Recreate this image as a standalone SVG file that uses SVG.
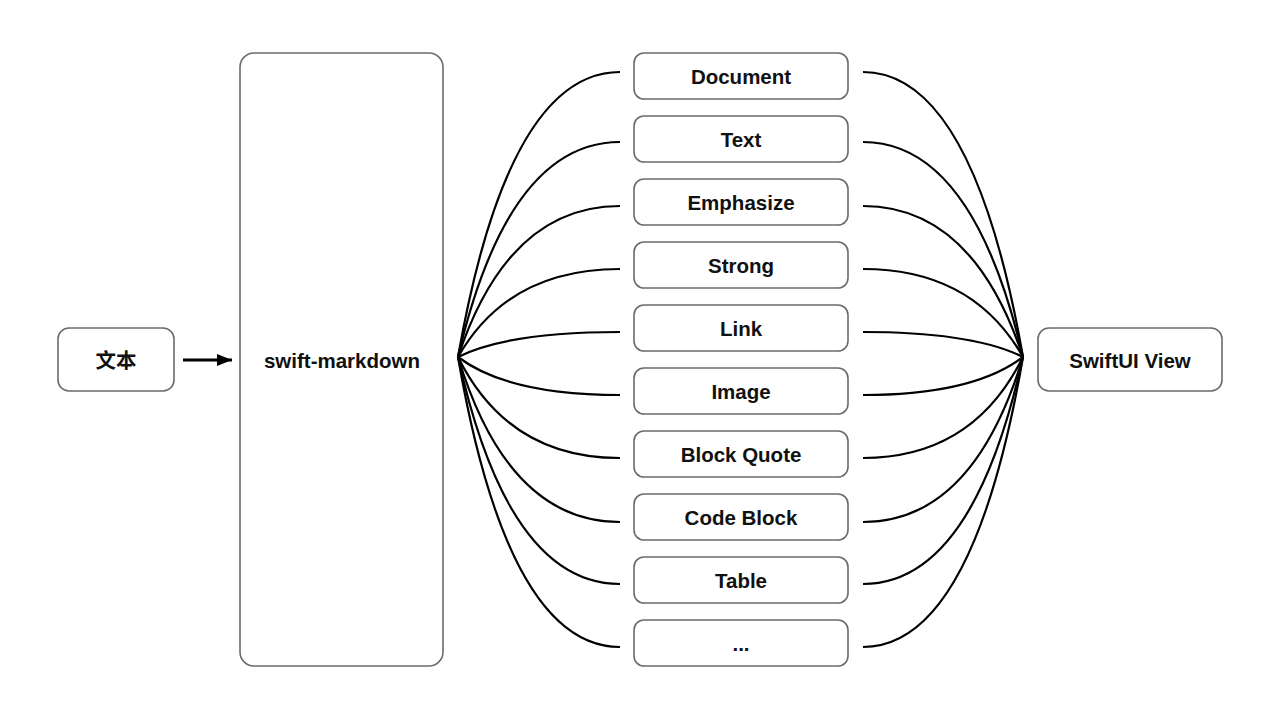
<svg xmlns="http://www.w3.org/2000/svg" width="1280" height="720" viewBox="0 0 1280 720">
<style>
.box{fill:#fff;stroke:#6b6b6b;stroke-width:1.6}
.lbl{font-family:"Liberation Sans","Noto Sans CJK SC",sans-serif;font-weight:bold;font-size:20.5px;fill:#111;text-anchor:middle}
.edge{fill:none;stroke:#000;stroke-width:2.2}
</style>
<defs>
<marker id="arr" markerWidth="16" markerHeight="12" refX="15" refY="6" orient="auto" markerUnits="userSpaceOnUse">
<path d="M0,0 L15,6 L0,12 Z" fill="#000"/>
</marker>
</defs>
<rect width="1280" height="720" fill="#fff"/>
<g id="connectors">
<path d="M183,360 L232,360" fill="none" stroke="#000" stroke-width="2.8" marker-end="url(#arr)"/>
<path class="edge" d="M458,357 Q508,72 620,72"/>
<path class="edge" d="M458,357 Q508,142 620,142"/>
<path class="edge" d="M458,357 Q508,206 620,206"/>
<path class="edge" d="M458,357 Q508,269 620,269"/>
<path class="edge" d="M458,357 Q508,332 620,332"/>
<path class="edge" d="M458,357 Q508,395 620,395"/>
<path class="edge" d="M458,357 Q508,458 620,458"/>
<path class="edge" d="M458,357 Q508,522 620,522"/>
<path class="edge" d="M458,357 Q508,584 620,584"/>
<path class="edge" d="M458,357 Q508,647 620,647"/>
<path class="edge" d="M863,72 Q973,72 1023,357"/>
<path class="edge" d="M863,142 Q973,142 1023,357"/>
<path class="edge" d="M863,206 Q973,206 1023,357"/>
<path class="edge" d="M863,269 Q973,269 1023,357"/>
<path class="edge" d="M863,332 Q973,332 1023,357"/>
<path class="edge" d="M863,395 Q973,395 1023,357"/>
<path class="edge" d="M863,458 Q973,458 1023,357"/>
<path class="edge" d="M863,522 Q973,522 1023,357"/>
<path class="edge" d="M863,584 Q973,584 1023,357"/>
<path class="edge" d="M863,647 Q973,647 1023,357"/>
</g>
<g id="n-text"><rect class="box" x="58" y="328" width="116" height="63" rx="11"/><text class="lbl" x="116" y="368">文本</text></g>
<g id="n-swift-markdown"><rect class="box" x="240" y="53" width="203" height="613" rx="14"/><text class="lbl" x="342" y="368">swift-markdown</text></g>
<g id="n-document"><rect class="box" x="634" y="53" width="214" height="46" rx="10"/><text class="lbl" x="741" y="84">Document</text></g>
<g id="n-textnode"><rect class="box" x="634" y="116" width="214" height="46" rx="10"/><text class="lbl" x="741" y="147">Text</text></g>
<g id="n-emphasize"><rect class="box" x="634" y="179" width="214" height="46" rx="10"/><text class="lbl" x="741" y="210">Emphasize</text></g>
<g id="n-strong"><rect class="box" x="634" y="242" width="214" height="46" rx="10"/><text class="lbl" x="741" y="273">Strong</text></g>
<g id="n-link"><rect class="box" x="634" y="305" width="214" height="46" rx="10"/><text class="lbl" x="741" y="336">Link</text></g>
<g id="n-image"><rect class="box" x="634" y="368" width="214" height="46" rx="10"/><text class="lbl" x="741" y="399">Image</text></g>
<g id="n-blockquote"><rect class="box" x="634" y="431" width="214" height="46" rx="10"/><text class="lbl" x="741" y="462">Block Quote</text></g>
<g id="n-codeblock"><rect class="box" x="634" y="494" width="214" height="46" rx="10"/><text class="lbl" x="741" y="525">Code Block</text></g>
<g id="n-table"><rect class="box" x="634" y="557" width="214" height="46" rx="10"/><text class="lbl" x="741" y="588">Table</text></g>
<g id="n-more"><rect class="box" x="634" y="620" width="214" height="46" rx="10"/><text class="lbl" x="741" y="651">...</text></g>
<g id="n-swiftui"><rect class="box" x="1038" y="328" width="184" height="63" rx="11"/><text class="lbl" x="1130" y="368">SwiftUI View</text></g>
</svg>
